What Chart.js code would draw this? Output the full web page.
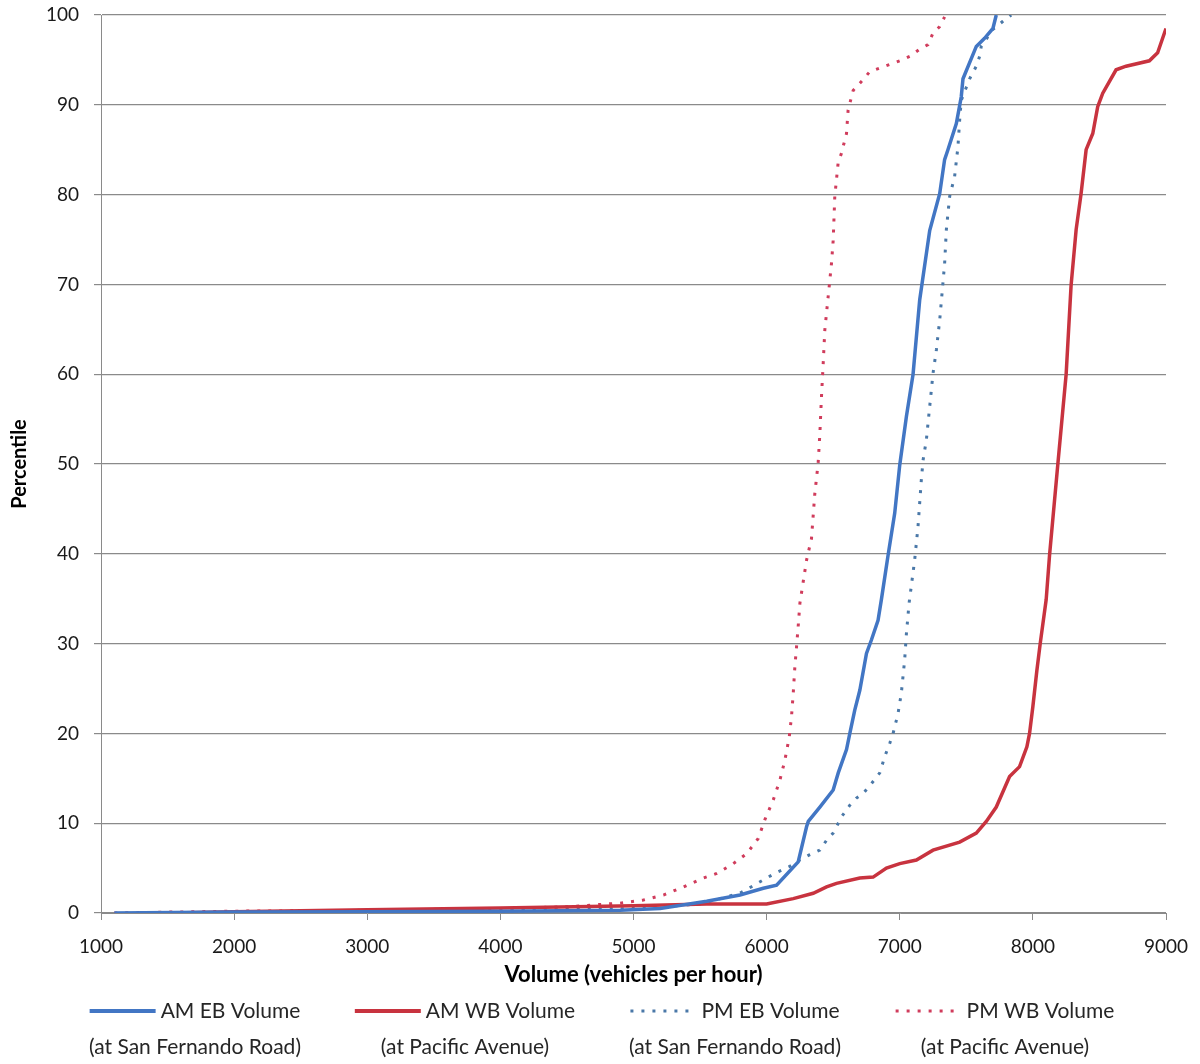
<!DOCTYPE html>
<html>
<head>
<meta charset="utf-8">
<title>Volume percentile</title>
<script src="https://cdn.jsdelivr.net/npm/chart.js@4.4.1/dist/chart.umd.min.js"></script>
<style>
  html, body { margin: 0; padding: 0; background: #fff; }
  #wrap { width: 1200px; height: 1064px; position: relative; }
</style>
</head>
<body>
<div id="wrap"><canvas id="chart"></canvas></div>
<script>
// series labels (legend line 1 + line 2)
const seriesNames = ['AM EB Volume', 'AM WB Volume', 'PM EB Volume', 'PM WB Volume'];
const seriesPlaces = ['(at San Fernando Road)', '(at Pacific Avenue)', '(at San Fernando Road)', '(at Pacific Avenue)'];

// axis ticks
const xTicks = [1000, 2000, 3000, 4000, 5000, 6000, 7000, 8000, 9000];
const yTicks = [0, 10, 20, 30, 40, 50, 60, 70, 80, 90, 100];

// AM EB (solid blue)
const amEbVolume = [1100, 2000, 3000, 4000, 4900, 5200, 5550, 5800, 5975, 6075, 6237, 6300, 6313, 6400, 6500, 6538, 6600, 6625, 6662, 6700, 6750, 6787, 6837, 6862, 6912, 6962, 7000, 7050, 7100, 7150, 7225, 7300, 7337, 7362, 7425, 7462, 7475, 7575, 7637, 7700, 7725];
const amEbPct = [0, 0.1, 0.15, 0.2, 0.3, 0.5, 1.3, 2.0, 2.75, 3.1, 5.7, 9.6, 10.2, 11.8, 13.7, 15.6, 18.2, 20, 22.6, 24.8, 28.9, 30.4, 32.6, 34.9, 39.8, 44.5, 49.9, 55.3, 60, 68.3, 76, 80.1, 83.9, 85, 87.9, 90.9, 92.9, 96.5, 97.4, 98.5, 100];

// AM WB (solid red)
const amWbVolume = [1550, 2000, 3000, 4000, 5000, 5550, 6000, 6200, 6350, 6450, 6525, 6700, 6800, 6900, 7000, 7125, 7250, 7450, 7575, 7650, 7725, 7825, 7900, 7955, 7975, 8000, 8030, 8055, 8100, 8125, 8187, 8250, 8287, 8325, 8362, 8400, 8450, 8487, 8525, 8625, 8700, 8875, 8937, 9000];
const amWbPct = [0, 0.15, 0.35, 0.55, 0.8, 1.0, 1.0, 1.6, 2.2, 2.9, 3.3, 3.9, 4.0, 5.0, 5.5, 5.9, 7.0, 7.9, 8.9, 10.2, 11.8, 15.2, 16.3, 18.5, 20, 23, 27, 30, 34.9, 39.8, 49.9, 60, 69.9, 76.1, 80.1, 85, 86.8, 89.8, 91.3, 93.9, 94.3, 94.9, 95.8, 98.5];

// PM EB (dotted blue)
const pmEbVolume = [3500, 4000, 4500, 5000, 5500, 5800, 6000, 6087, 6175, 6250, 6325, 6400, 6450, 6500, 6525, 6562, 6625, 6675, 6725, 6787, 6850, 6887, 6925, 6950, 6987, 7012, 7037, 7050, 7070, 7112, 7137, 7162, 7175, 7200, 7225, 7250, 7275, 7300, 7337, 7350, 7375, 7412, 7437, 7450, 7462, 7525, 7575, 7600, 7612, 7700, 7775, 7837];
const pmEbPct = [0, 0.2, 0.4, 0.5, 1.0, 2.2, 3.9, 4.6, 5.2, 5.9, 6.5, 7.0, 8.1, 8.9, 9.6, 10.7, 12.0, 12.8, 13.3, 14.4, 15.6, 17.4, 18.9, 20, 22.2, 24.5, 28.2, 31.1, 34.5, 39.3, 43, 48.2, 50.4, 52.7, 56.4, 60.1, 62.7, 66, 72.3, 76.1, 79.8, 82, 85.3, 88.3, 90.5, 92.9, 94.3, 95.4, 96.5, 98.4, 99.3, 100];

// PM WB (dotted red)
const pmWbVolume = [1100, 1500, 2000, 3000, 4000, 4525, 4700, 4900, 5075, 5225, 5375, 5525, 5625, 5750, 5850, 5937, 5987, 6050, 6100, 6137, 6170, 6187, 6200, 6212, 6225, 6237, 6250, 6300, 6337, 6362, 6387, 6400, 6412, 6425, 6437, 6462, 6487, 6500, 6512, 6537, 6562, 6600, 6612, 6650, 6725, 6775, 6850, 7000, 7075, 7150, 7212, 7250, 7300, 7337];
const pmWbPct = [0, 0.1, 0.2, 0.3, 0.5, 0.7, 0.9, 1.1, 1.45, 2.0, 2.9, 3.9, 4.4, 5.5, 6.6, 8.3, 10.4, 12.6, 14.8, 17, 19.6, 21.9, 24.5, 27.4, 29.7, 31.9, 34.5, 39.3, 41.7, 46.7, 50.1, 53.4, 57.5, 61.2, 64.9, 68.6, 72.3, 74.9, 79.8, 83.5, 84.6, 86.8, 89.4, 91.6, 92.8, 93.7, 94.1, 94.9, 95.4, 96.2, 96.7, 98, 98.7, 99.8];

const toPoints = (xs, ys) => xs.map((x, i) => ({ x: x, y: ys[i] }));

const gridGrey = '#8a8a8a';
const dotted = [3, 8];

// legend drawn under the axis: line sample + name, then the place centred below
const twoLineLegend = {
  id: 'twoLineLegend',
  afterDraw(chart) {
    const ctx = chart.ctx;
    const sets = chart.data.datasets;
    const spacing = 270;
    const cx0 = chart.width / 2 - spacing * (sets.length - 1) / 2;
    const y1 = chart.height - 53;
    const y2 = chart.height - 17;
    const sampleW = 66;
    const gap = 5;
    ctx.save();
    ctx.font = '21px Lato';
    ctx.fillStyle = '#262626';
    ctx.textBaseline = 'middle';
    sets.forEach((ds, i) => {
      const cx = cx0 + i * spacing;
      const tw = ctx.measureText(ds.label).width;
      const x0 = cx - (sampleW + gap + tw) / 2;
      ctx.beginPath();
      ctx.strokeStyle = ds.borderColor;
      ctx.lineWidth = ds.borderDash && ds.borderDash.length ? 3 : 4;
      ctx.setLineDash(ds.borderDash || []);
      ctx.moveTo(x0, y1);
      ctx.lineTo(x0 + sampleW, y1);
      ctx.stroke();
      ctx.setLineDash([]);
      ctx.textAlign = 'left';
      ctx.fillText(ds.label, x0 + sampleW + gap, y1);
      ctx.textAlign = 'center';
      ctx.fillText(seriesPlaces[i], cx, y2);
    });
    ctx.restore();
  }
};

Chart.defaults.font.family = 'Lato';
Chart.defaults.color = '#1a1a1a';

new Chart(document.getElementById('chart'), {
  type: 'line',
  data: {
    datasets: [
      { label: seriesNames[0], data: toPoints(amEbVolume, amEbPct), borderColor: '#4276c4', borderWidth: 3.5 },
      { label: seriesNames[1], data: toPoints(amWbVolume, amWbPct), borderColor: '#c8333f', borderWidth: 3.5 },
      { label: seriesNames[2], data: toPoints(pmEbVolume, pmEbPct), borderColor: '#4a78a8', borderWidth: 3, borderDash: dotted },
      { label: seriesNames[3], data: toPoints(pmWbVolume, pmWbPct), borderColor: '#d03c5c', borderWidth: 3, borderDash: dotted }
    ]
  },
  options: {
    responsive: true,
    maintainAspectRatio: false,
    animation: false,
    elements: { point: { radius: 0 }, line: { tension: 0, borderCapStyle: 'butt' } },
    layout: { padding: { top: 15, right: 34, bottom: 71, left: 0 } },
    plugins: { legend: { display: false }, tooltip: { enabled: false } },
    scales: {
      x: {
        type: 'linear',
        min: xTicks[0],
        max: xTicks[xTicks.length - 1],
        afterBuildTicks: s => { s.ticks = xTicks.map(v => ({ value: v })); },
        afterFit: s => { s.height = 80; s.paddingLeft = 0; s.paddingRight = 0; },
        ticks: { font: { size: 19 }, padding: 15, maxRotation: 0, callback: v => String(v) },
        grid: { drawOnChartArea: false, color: gridGrey, tickLength: 7 },
        border: { color: gridGrey },
        title: { display: true, text: 'Volume (vehicles per hour)', font: { size: 22, weight: 'bold' }, color: '#000', padding: { top: 0, bottom: 5 } }
      },
      y: {
        min: 0,
        max: 100,
        afterBuildTicks: s => { s.ticks = yTicks.map(v => ({ value: v })); },
        afterFit: s => { s.width = 101; s.paddingTop = 0; s.paddingBottom = 0; },
        ticks: { font: { size: 19 }, padding: 15, callback: v => String(v) },
        grid: { color: gridGrey, tickLength: 7, lineWidth: 1.2 },
        border: { color: gridGrey },
        title: { display: true, text: 'Percentile', font: { size: 20, weight: 'bold' }, color: '#000', padding: { top: 8, bottom: 0 } }
      }
    }
  },
  plugins: [twoLineLegend]
});
</script>
</body>
</html>
